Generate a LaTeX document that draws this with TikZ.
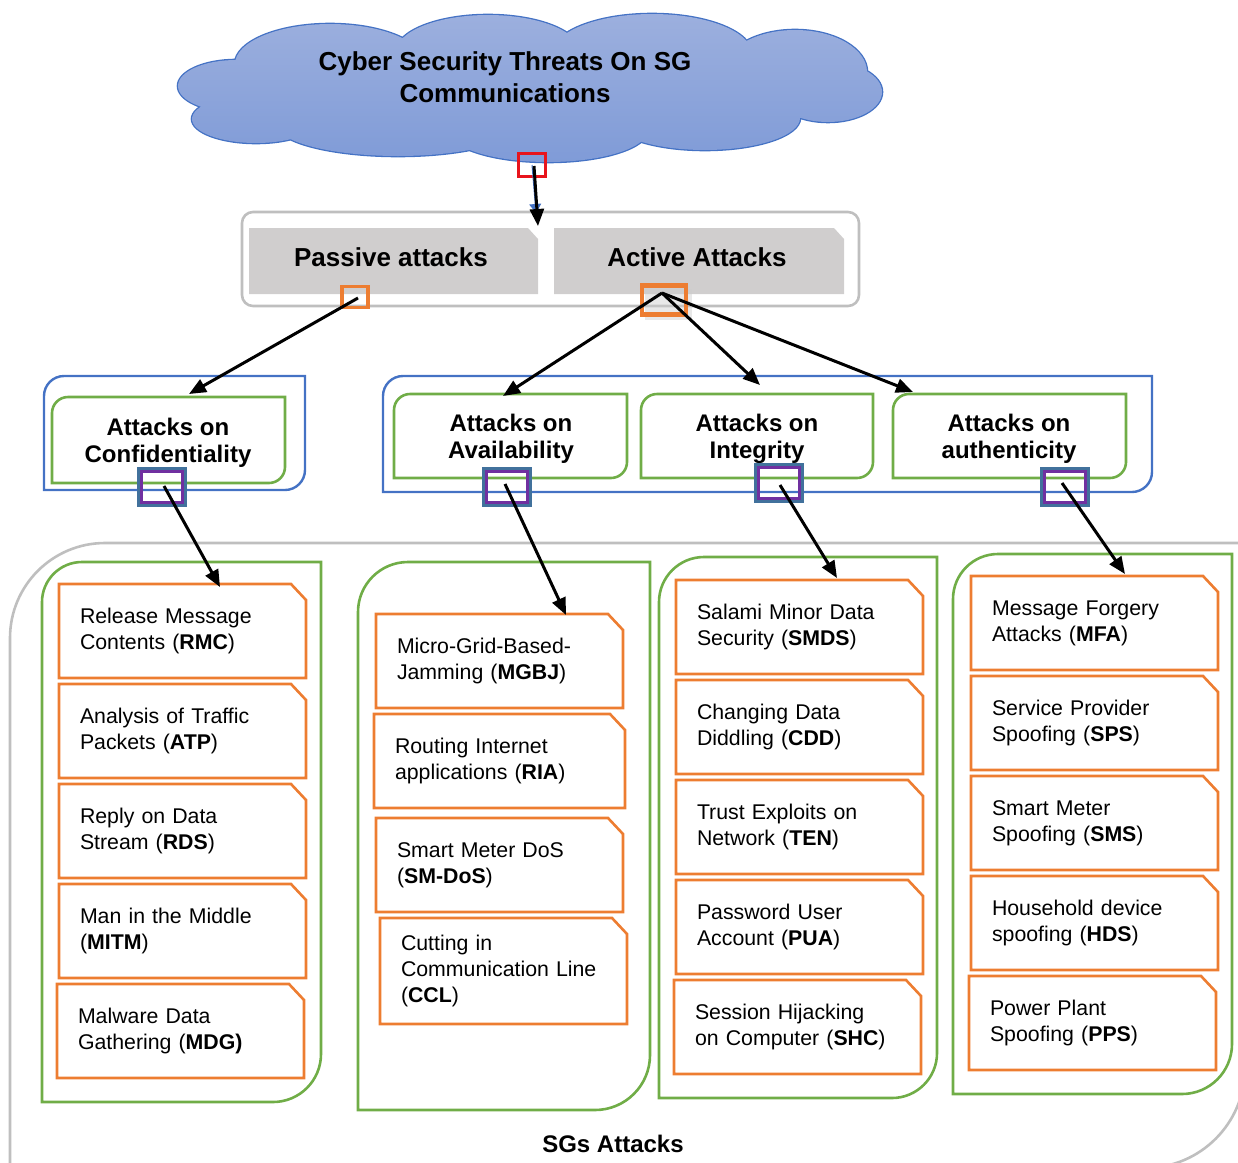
\documentclass[tikz,border=0pt]{standalone}
\usepackage{fontspec}
\setmainfont{Liberation Sans}
\usetikzlibrary{arrows.meta}

\definecolor{cloudtop}{HTML}{9DB0DE}
\definecolor{cloudbot}{HTML}{7E9AD7}
\definecolor{cloudline}{HTML}{4472C4}
\definecolor{boxgray}{HTML}{D0CECE}
\definecolor{framegray}{HTML}{BFBFBF}
\definecolor{accorange}{HTML}{ED7D31}
\definecolor{accgreen}{HTML}{70AD47}
\definecolor{accblue}{HTML}{4472C4}
\definecolor{mkblue}{HTML}{41719C}
\definecolor{mkpurple}{HTML}{7030A0}
\definecolor{alarmred}{HTML}{E8141C}

% frame with rounded top-left and bottom-right corners only
% #1 style, #2 x1, #3 y1, #4 x2, #5 y2, #6 top-left radius, #7 bottom-right radius
\newcommand\cornerframe[7]{%
  \draw[#1] (#2,#5) -- (#2,{#3+#6})
    .. controls (#2,{#3+0.448*#6}) and ({#2+0.448*#6},#3) .. ({#2+#6},#3)
    -- (#4,#3) -- (#4,{#5-#7})
    .. controls (#4,{#5-0.448*#7}) and ({#4-0.448*#7},#5) .. ({#4-#7},#5)
    -- cycle;}

% attack box with a cut top-right corner
% #1 name, #2 x1, #3 y1, #4 x2, #5 y2, #6 text
\newcommand\attackbox[6]{%
  \pgfmathsetmacro\abw{#4-#2}%
  \pgfmathsetmacro\abh{#5-#3}%
  \pgfmathsetmacro\abt{#4-#2-42}%
  \node[atkbox, minimum width=\abw pt, minimum height=\abh pt, text width=\abt pt]
    (#1) at ({(#2+#4)/2},{(#3+#5)/2}) {#6};
  \draw[atkline] (#1.south west) -- (#1.north west) -- ([xshift=-15pt]#1.north east)
    -- ([yshift=-16pt]#1.north east) -- (#1.south east) -- cycle;}

% puffs of the title cloud
\newcommand\cloudpuffs{%
  (330,64) ellipse [x radius=95, y radius=40]
  (488,52) ellipse [x radius=92, y radius=37]
  (652,54) ellipse [x radius=100, y radius=40]
  (795,72) ellipse [x radius=72, y radius=42]
  (828,92) ellipse [x radius=54, y radius=30]
  (236,86) ellipse [x radius=58, y radius=26]
  (256,119) ellipse [x radius=64, y radius=24]
  (398,124) ellipse [x radius=122, y radius=32]
  (548,130) ellipse [x radius=100, y radius=32]
  (705,118) ellipse [x radius=95, y radius=32]
  (530,88) ellipse [x radius=260, y radius=50]}

\begin{document}
\begin{tikzpicture}[x=1pt,y=-1pt,
  arr/.style={line width=3pt, black, -{Triangle[length=17pt,width=14pt]}},
  atkbox/.style={inner xsep=21pt, inner ysep=0pt, outer sep=0pt, align=left,
    font=\fontsize{21.3}{26}\selectfont},
  atkline/.style={draw=accorange, line width=2.6pt},
  colframe/.style={draw=accgreen, line width=2.6pt},
  catframe/.style={draw=accgreen, line width=2.6pt},
  grpframe/.style={draw=accblue, line width=2.4pt},
  cattext/.style={align=center, font=\fontsize{24}{27}\selectfont\bfseries},
  headtext/.style={font=\fontsize{26}{30}\selectfont\bfseries},
  mkout/.style={draw=mkblue, line width=3pt, minimum width=47pt, minimum height=37pt, inner sep=0pt},
  mkin/.style={draw=mkpurple, line width=2.6pt, minimum width=41pt, minimum height=31pt, inner sep=0pt},
  omark/.style={draw=accorange, inner sep=0pt}
]
\useasboundingbox (0,0) rectangle (1238,1162);

% ---------- outer "SGs Attacks" frame ----------
\begin{scope}
  \clip (0,0) rectangle (1238,1162);
  \cornerframe{draw=framegray, line width=2.6pt}{10}{543}{1245}{1168}{95}{100}
\end{scope}
\node[font=\fontsize{24}{28}\selectfont\bfseries] (sga) at (613,1144) {SGs Attacks};

% ---------- columns of attacks ----------
\cornerframe{colframe}{42}{562}{321}{1102}{40}{48}
\cornerframe{colframe}{358}{562}{650}{1110}{50}{55}
\cornerframe{colframe}{659}{557}{937}{1098}{45}{45}
\cornerframe{colframe}{953}{554}{1232}{1094}{45}{50}

\attackbox{rmc}{59}{584}{306}{678}{Release Message\\Contents (\textbf{RMC})}
\attackbox{atp}{59}{684}{306}{778}{Analysis of Traffic\\Packets (\textbf{ATP})}
\attackbox{rds}{59}{784}{306}{878}{Reply on Data\\Stream (\textbf{RDS})}
\attackbox{mitm}{59}{884}{306}{978}{Man in the Middle\\(\textbf{MITM})}
\attackbox{mdg}{57}{984}{304}{1078}{Malware Data\\Gathering (\textbf{MDG)}}

\attackbox{mgbj}{376}{614}{623}{708}{Micro-Grid-Based-\\Jamming (\textbf{MGBJ})}
\attackbox{ria}{374}{714}{625}{808}{Routing Internet\\applications (\textbf{RIA})}
\attackbox{smdos}{376}{818}{623}{912}{Smart Meter DoS\\(\textbf{SM-DoS})}
\attackbox{ccl}{380}{918}{627}{1024}{Cutting in\\Communication Line\\(\textbf{CCL})}

\attackbox{smds}{676}{580}{923}{674}{Salami Minor Data\\Security (\textbf{SMDS})}
\attackbox{cdd}{676}{680}{923}{774}{Changing Data\\Diddling (\textbf{CDD})}
\attackbox{ten}{676}{780}{923}{874}{Trust Exploits on\\Network (\textbf{TEN})}
\attackbox{pua}{676}{880}{923}{974}{Password User\\Account (\textbf{PUA})}
\attackbox{shc}{674}{980}{921}{1074}{Session Hijacking\\on Computer (\textbf{SHC})}

\attackbox{mfa}{971}{576}{1218}{670}{Message Forgery\\Attacks (\textbf{MFA})}
\attackbox{sps}{971}{676}{1218}{770}{Service Provider\\Spoofing (\textbf{SPS})}
\attackbox{sms}{971}{776}{1218}{870}{Smart Meter\\Spoofing (\textbf{SMS})}
\attackbox{hds}{971}{876}{1218}{970}{Household device\\spoofing (\textbf{HDS})}
\attackbox{pps}{969}{976}{1216}{1070}{Power Plant\\Spoofing (\textbf{PPS})}

% ---------- attack categories ----------
\cornerframe{grpframe}{44}{376}{305}{490}{20}{20}
\cornerframe{grpframe}{383}{376}{1152}{492}{20}{20}
\cornerframe{catframe}{52}{397}{285}{483}{16}{16}
\cornerframe{catframe}{394}{394}{627}{478}{16}{16}
\cornerframe{catframe}{641}{394}{873}{478}{16}{16}
\cornerframe{catframe}{893}{394}{1126}{478}{16}{16}

\node[cattext] (conf) at (168,443) {Attacks on\\Confidentiality};
\node[cattext] (avail) at (511,439) {Attacks on\\Availability};
\node[cattext] (integ) at (757,439) {Attacks on\\Integrity};
\node[cattext] (auth) at (1009,439) {Attacks on\\authenticity};

\node[mkout] (mconf) at (162,487) {};   \node[mkin] at (mconf) {};
\node[mkout] (mavail) at (507,487) {};  \node[mkin] at (mavail) {};
\node[mkout] (minteg) at (779,483) {};  \node[mkin] at (minteg) {};
\node[mkout] (mauth) at (1065,487) {};  \node[mkin] at (mauth) {};

% ---------- passive / active ----------
\draw[draw=framegray, line width=2.6pt, rounded corners=11pt] (242,212) rectangle (859,306);
\fill[boxgray] (249,294) -- (249,228) -- (528,228) -- (538,239) -- (538,294) -- cycle;
\fill[boxgray] (554,294) -- (554,228) -- (834,228) -- (844,239) -- (844,294) -- cycle;
\node[headtext] (passive) at (391,257) {Passive attacks};
\node[headtext] (active) at (697,257) {Active Attacks};

\node[omark, line width=3.5pt, minimum width=26pt, minimum height=21pt] (mpass) at (355,297) {};
\fill[black!20, opacity=0.45] (645,289) rectangle (692,320);
\node[omark, line width=4.5pt, minimum width=44pt, minimum height=29pt] (mact) at (664,300) {};

% ---------- cloud ----------
\draw[cloudline, line width=2.6pt] \cloudpuffs;
\begin{scope}
  \clip \cloudpuffs;
  \shade[top color=cloudtop, bottom color=cloudbot] (170,10) rectangle (890,170);
\end{scope}
\node[align=center, font=\fontsize{26}{32}\selectfont\bfseries] (title) at (505,77)
  {Cyber Security Threats On SG\\Communications};
\node[draw=alarmred, line width=2.6pt, minimum width=27pt, minimum height=23pt, inner sep=0pt] (mcloud) at (532,165) {};

% ---------- connectors ----------
\coordinate (pairtop) at (538,226);
\coordinate (pairmid) at (536,213);
\coordinate (actsrc) at (662,293);
\coordinate (passsrc) at (358,298);
\coordinate (confin) at (189,394);
\coordinate (availin) at (503,396);
\coordinate (integin) at (760,385);
\coordinate (authin) at (913,392);
\coordinate (rmcin) at (220,587);
\coordinate (mgbjin) at (566,615);
\coordinate (smdsin) at (837,578);
\coordinate (mfain) at (1125,574);

\draw[cloudline, line width=1pt, -{Triangle[length=9pt,width=12pt]}] (mcloud.center) -- (pairmid);
\draw[arr] ([shift={(2pt,-1pt)}]mcloud.center) -- (pairtop);
\draw[arr] (passsrc) -- (confin);
\draw[arr] (actsrc) -- (availin);
\draw[arr] (actsrc) -- (integin);
\draw[arr] (actsrc) -- (authin);
\draw[arr] ([shift={(2pt,1pt)}]mconf.center) -- (rmcin);
\draw[arr] ([shift={(-2pt,3pt)}]mavail.center) -- (mgbjin);
\draw[arr] ([shift={(1pt,-2pt)}]minteg.center) -- (smdsin);
\draw[arr] ([shift={(-3pt,4pt)}]mauth.center) -- (mfain);
\end{tikzpicture}
\end{document}
